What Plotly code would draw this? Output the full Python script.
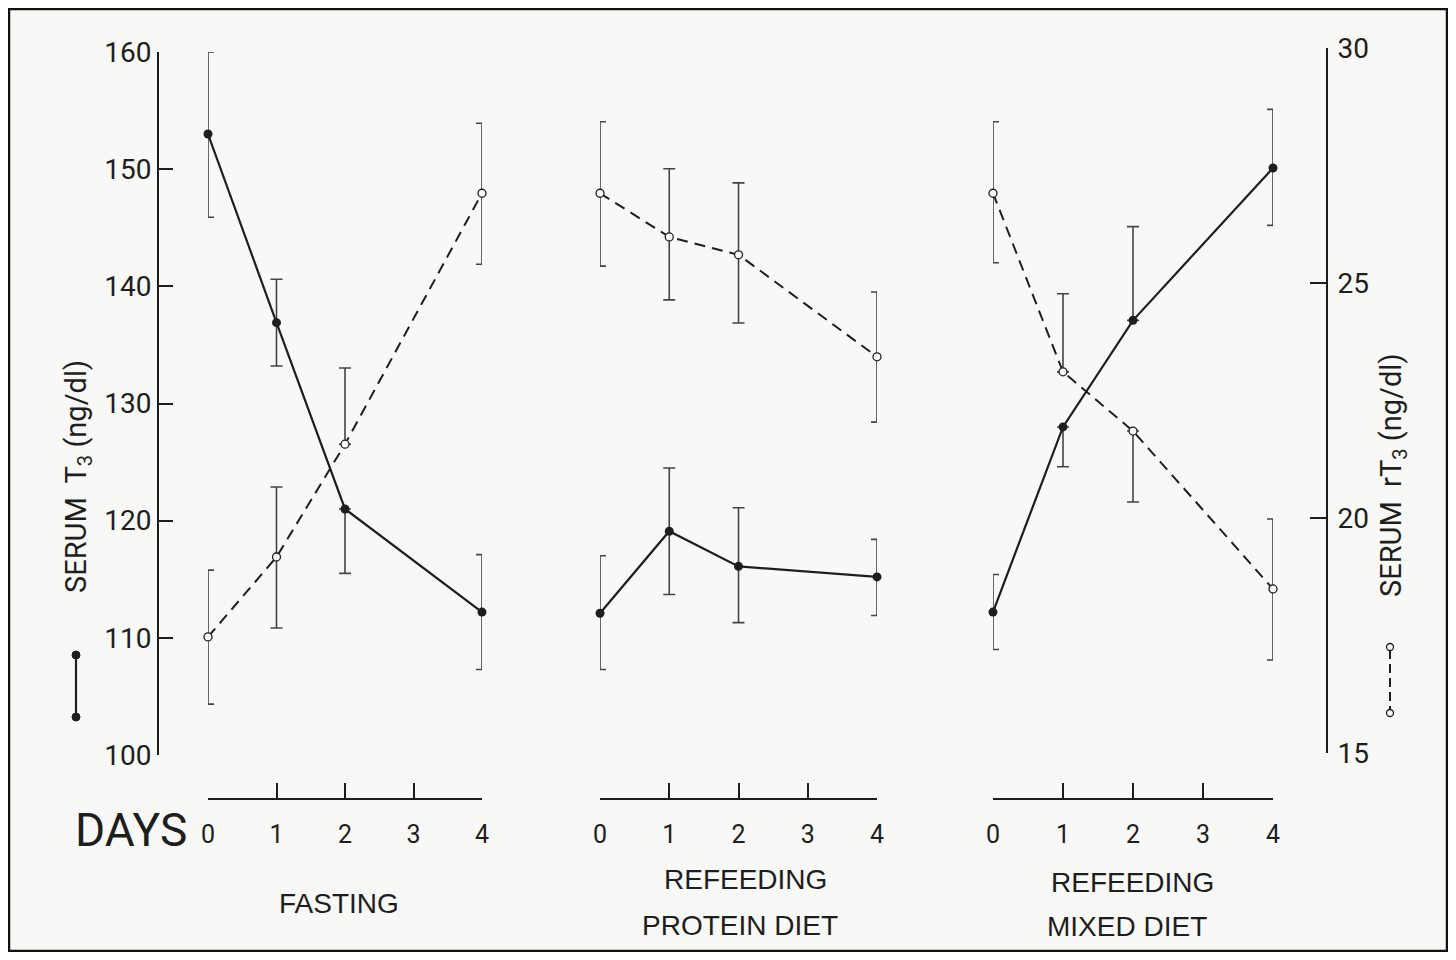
import plotly.graph_objects as go

# ---------------- data ----------------
days = [0, 1, 2, 4]
day_ticks = [0, 1, 2, 3, 4]
t3_ticks = [100, 110, 120, 130, 140, 150, 160]
rt3_ticks = [15, 20, 25, 30]

panel_names = ["FASTING", "REFEEDING", "REFEEDING"]
panel_sub = ["", "PROTEIN DIET", "MIXED DIET"]

# serum T3 (ng/dl), mean with upper / lower error
t3_fasting = [153.0, 136.9, 121.0, 112.2]
t3_fasting_up = [7.0, 3.7, 0.0, 4.9]
t3_fasting_dn = [7.1, 3.7, 5.5, 4.9]

t3_protein = [112.1, 119.1, 116.1, 115.2]
t3_protein_up = [4.9, 5.4, 5.0, 3.2]
t3_protein_dn = [4.8, 5.4, 4.8, 3.3]

t3_mixed = [112.2, 128.0, 137.1, 150.1]
t3_mixed_up = [3.2, 0.0, 8.0, 5.0]
t3_mixed_dn = [3.2, 3.4, 0.0, 4.9]

# serum rT3 (ng/dl)
rt3_fasting = [17.47, 19.17, 21.57, 26.91]
rt3_fasting_up = [1.42, 1.49, 1.62, 1.49]
rt3_fasting_dn = [1.43, 1.51, 0.0, 1.51]

rt3_protein = [26.91, 25.98, 25.60, 23.43]
rt3_protein_up = [1.52, 1.45, 1.53, 1.38]
rt3_protein_dn = [1.55, 1.34, 1.45, 1.39]

rt3_mixed = [26.91, 23.11, 21.85, 18.49]
rt3_mixed_up = [1.52, 1.66, 0.0, 1.49]
rt3_mixed_dn = [1.48, 0.0, 1.51, 1.51]

# ---------------- layout helpers ----------------
INK = "#1e1e1e"
BAR = "#444444"
BG = "#f8f8f6"
NUM = "Roboto, Liberation Sans, sans-serif"
WIDE = "Liberation Sans, Arial, sans-serif"

OFF = 8                      # page body margin
W, H = 1456 - 2 * OFF, 960 - 2 * OFF
L, R, T, B = 158, 1327, 48, 799  # plot area in screen pixels


def px_x(p):
    return (p - L) / (R - L)


def px_y(p):
    return (B - p) / (B - T)


fig = go.Figure()

t3_sets = [(t3_fasting, t3_fasting_up, t3_fasting_dn),
           (t3_protein, t3_protein_up, t3_protein_dn),
           (t3_mixed, t3_mixed_up, t3_mixed_dn)]
rt3_sets = [(rt3_fasting, rt3_fasting_up, rt3_fasting_dn),
            (rt3_protein, rt3_protein_up, rt3_protein_dn),
            (rt3_mixed, rt3_mixed_up, rt3_mixed_dn)]
xrefs = ["x", "x2", "x3"]

for k in range(3):
    v, up, dn = rt3_sets[k]
    fig.add_trace(go.Scatter(
        x=days, y=v, xaxis=xrefs[k], yaxis="y2", mode="lines+markers",
        cliponaxis=False, showlegend=False,
        line=dict(color=INK, width=2, dash="11px,7px"),
        marker=dict(symbol="circle", size=8, color=BG, line=dict(color=INK, width=1.3)),
        error_y=dict(type="data", symmetric=False, array=up, arrayminus=dn,
                     color=BAR, thickness=1.6, width=6),
    ))
    v, up, dn = t3_sets[k]
    fig.add_trace(go.Scatter(
        x=days, y=v, xaxis=xrefs[k], yaxis="y", mode="lines+markers",
        cliponaxis=False, showlegend=False,
        line=dict(color=INK, width=2.2),
        marker=dict(symbol="circle", size=9, color=INK),
        error_y=dict(type="data", symmetric=False, array=up, arrayminus=dn,
                     color=BAR, thickness=1.6, width=6),
    ))

xdoms = [(208, 482), (600, 877), (993, 1273)]
xaxis_common = dict(
    range=[0, 4], anchor="free", position=0, showline=True, linecolor=INK,
    linewidth=2, ticks="inside", ticklen=15, tickwidth=2, tickcolor=INK,
    tickvals=day_ticks, showgrid=False, zeroline=False,
    tickfont=dict(family=NUM, size=25, color=INK), ticklabelstandoff=13,
)
for k, (a, b) in enumerate(xdoms):
    name = "xaxis" if k == 0 else f"xaxis{k + 1}"
    fig.layout[name] = dict(domain=[px_x(a), px_x(b)], **xaxis_common)

fig.update_layout(
    width=W, height=H,
    margin=dict(l=L - OFF, r=W - (R - OFF), t=T - OFF, b=H - (B - OFF)),
    paper_bgcolor=BG, plot_bgcolor="rgba(0,0,0,0)",
    yaxis=dict(
        domain=[px_y(755), px_y(52)], range=[100, 160], anchor="free", position=0,
        side="left", showline=True, linecolor=INK, linewidth=2,
        ticks="inside", ticklen=14, tickwidth=2, tickcolor=INK,
        tickvals=t3_ticks, showgrid=False, zeroline=False,
        tickfont=dict(family=NUM, size=28, color=INK), ticklabelstandoff=0,
    ),
    yaxis2=dict(
        domain=[px_y(753), px_y(48)], range=[15, 30], anchor="free", position=1,
        side="right", showline=True, linecolor=INK, linewidth=2,
        ticks="inside", ticklen=16, tickwidth=2, tickcolor=INK,
        tickvals=rt3_ticks, showgrid=False, zeroline=False,
        tickfont=dict(family=NUM, size=28, color=INK), ticklabelstandoff=4,
    ),
)


def note(text, x, y, size, family=WIDE, angle=0):
    return dict(text=text, x=px_x(x), y=px_y(y), xref="paper", yref="paper",
                xanchor="center", yanchor="middle", showarrow=False, textangle=angle,
                font=dict(family=family, size=size, color=INK))


ann = [note("DAYS", 131, 830, 46, family=NUM)]
label_pos = [(339, 904, None, None), (745, 880, 740, 925), (1132, 882, 1127, 926)]
for k, (x1, y1, x2, y2) in enumerate(label_pos):
    ann.append(note(panel_names[k], x1, y1, 28))
    if panel_sub[k]:
        ann.append(note(panel_sub[k], x2, y2, 28))
ann.append(note("SERUM  T<sub>3</sub> (ng/dl)", 78, 477, 29, family=NUM, angle=-90))
ann.append(note("SERUM  rT<sub>3</sub> (ng/dl)", 1393, 475, 29, family=NUM, angle=-90))
fig.update_layout(annotations=ann)

shapes = []
# scan frame
shapes.append(dict(type="rect", xref="paper", yref="paper",
                   x0=px_x(9), x1=px_x(1447), y0=px_y(951), y1=px_y(9),
                   line=dict(color="#111", width=2.5), fillcolor="rgba(0,0,0,0)", layer="below"))
# legend key: T3 (solid, filled dots)
shapes.append(dict(type="line", xref="paper", yref="paper",
                   x0=px_x(76), x1=px_x(76), y0=px_y(655), y1=px_y(717),
                   line=dict(color=INK, width=2.2)))
for py in (655, 717):
    shapes.append(dict(type="circle", xref="paper", yref="paper",
                       xsizemode="pixel", ysizemode="pixel",
                       xanchor=px_x(76), yanchor=px_y(py), x0=-4, x1=4, y0=-4, y1=4,
                       fillcolor=INK, line=dict(color=INK, width=1)))
# legend key: rT3 (dashed, open circles)
shapes.append(dict(type="line", xref="paper", yref="paper",
                   x0=px_x(1390), x1=px_x(1390), y0=px_y(650), y1=px_y(710),
                   line=dict(color=INK, width=2, dash="9px,5px")))
for py in (647, 713):
    shapes.append(dict(type="circle", xref="paper", yref="paper",
                       xsizemode="pixel", ysizemode="pixel",
                       xanchor=px_x(1390), yanchor=px_y(py), x0=-3.5, x1=3.5, y0=-3.5, y1=3.5,
                       fillcolor=BG, line=dict(color=INK, width=1.3)))
fig.update_layout(shapes=shapes)

fig.write_html("out.html")
